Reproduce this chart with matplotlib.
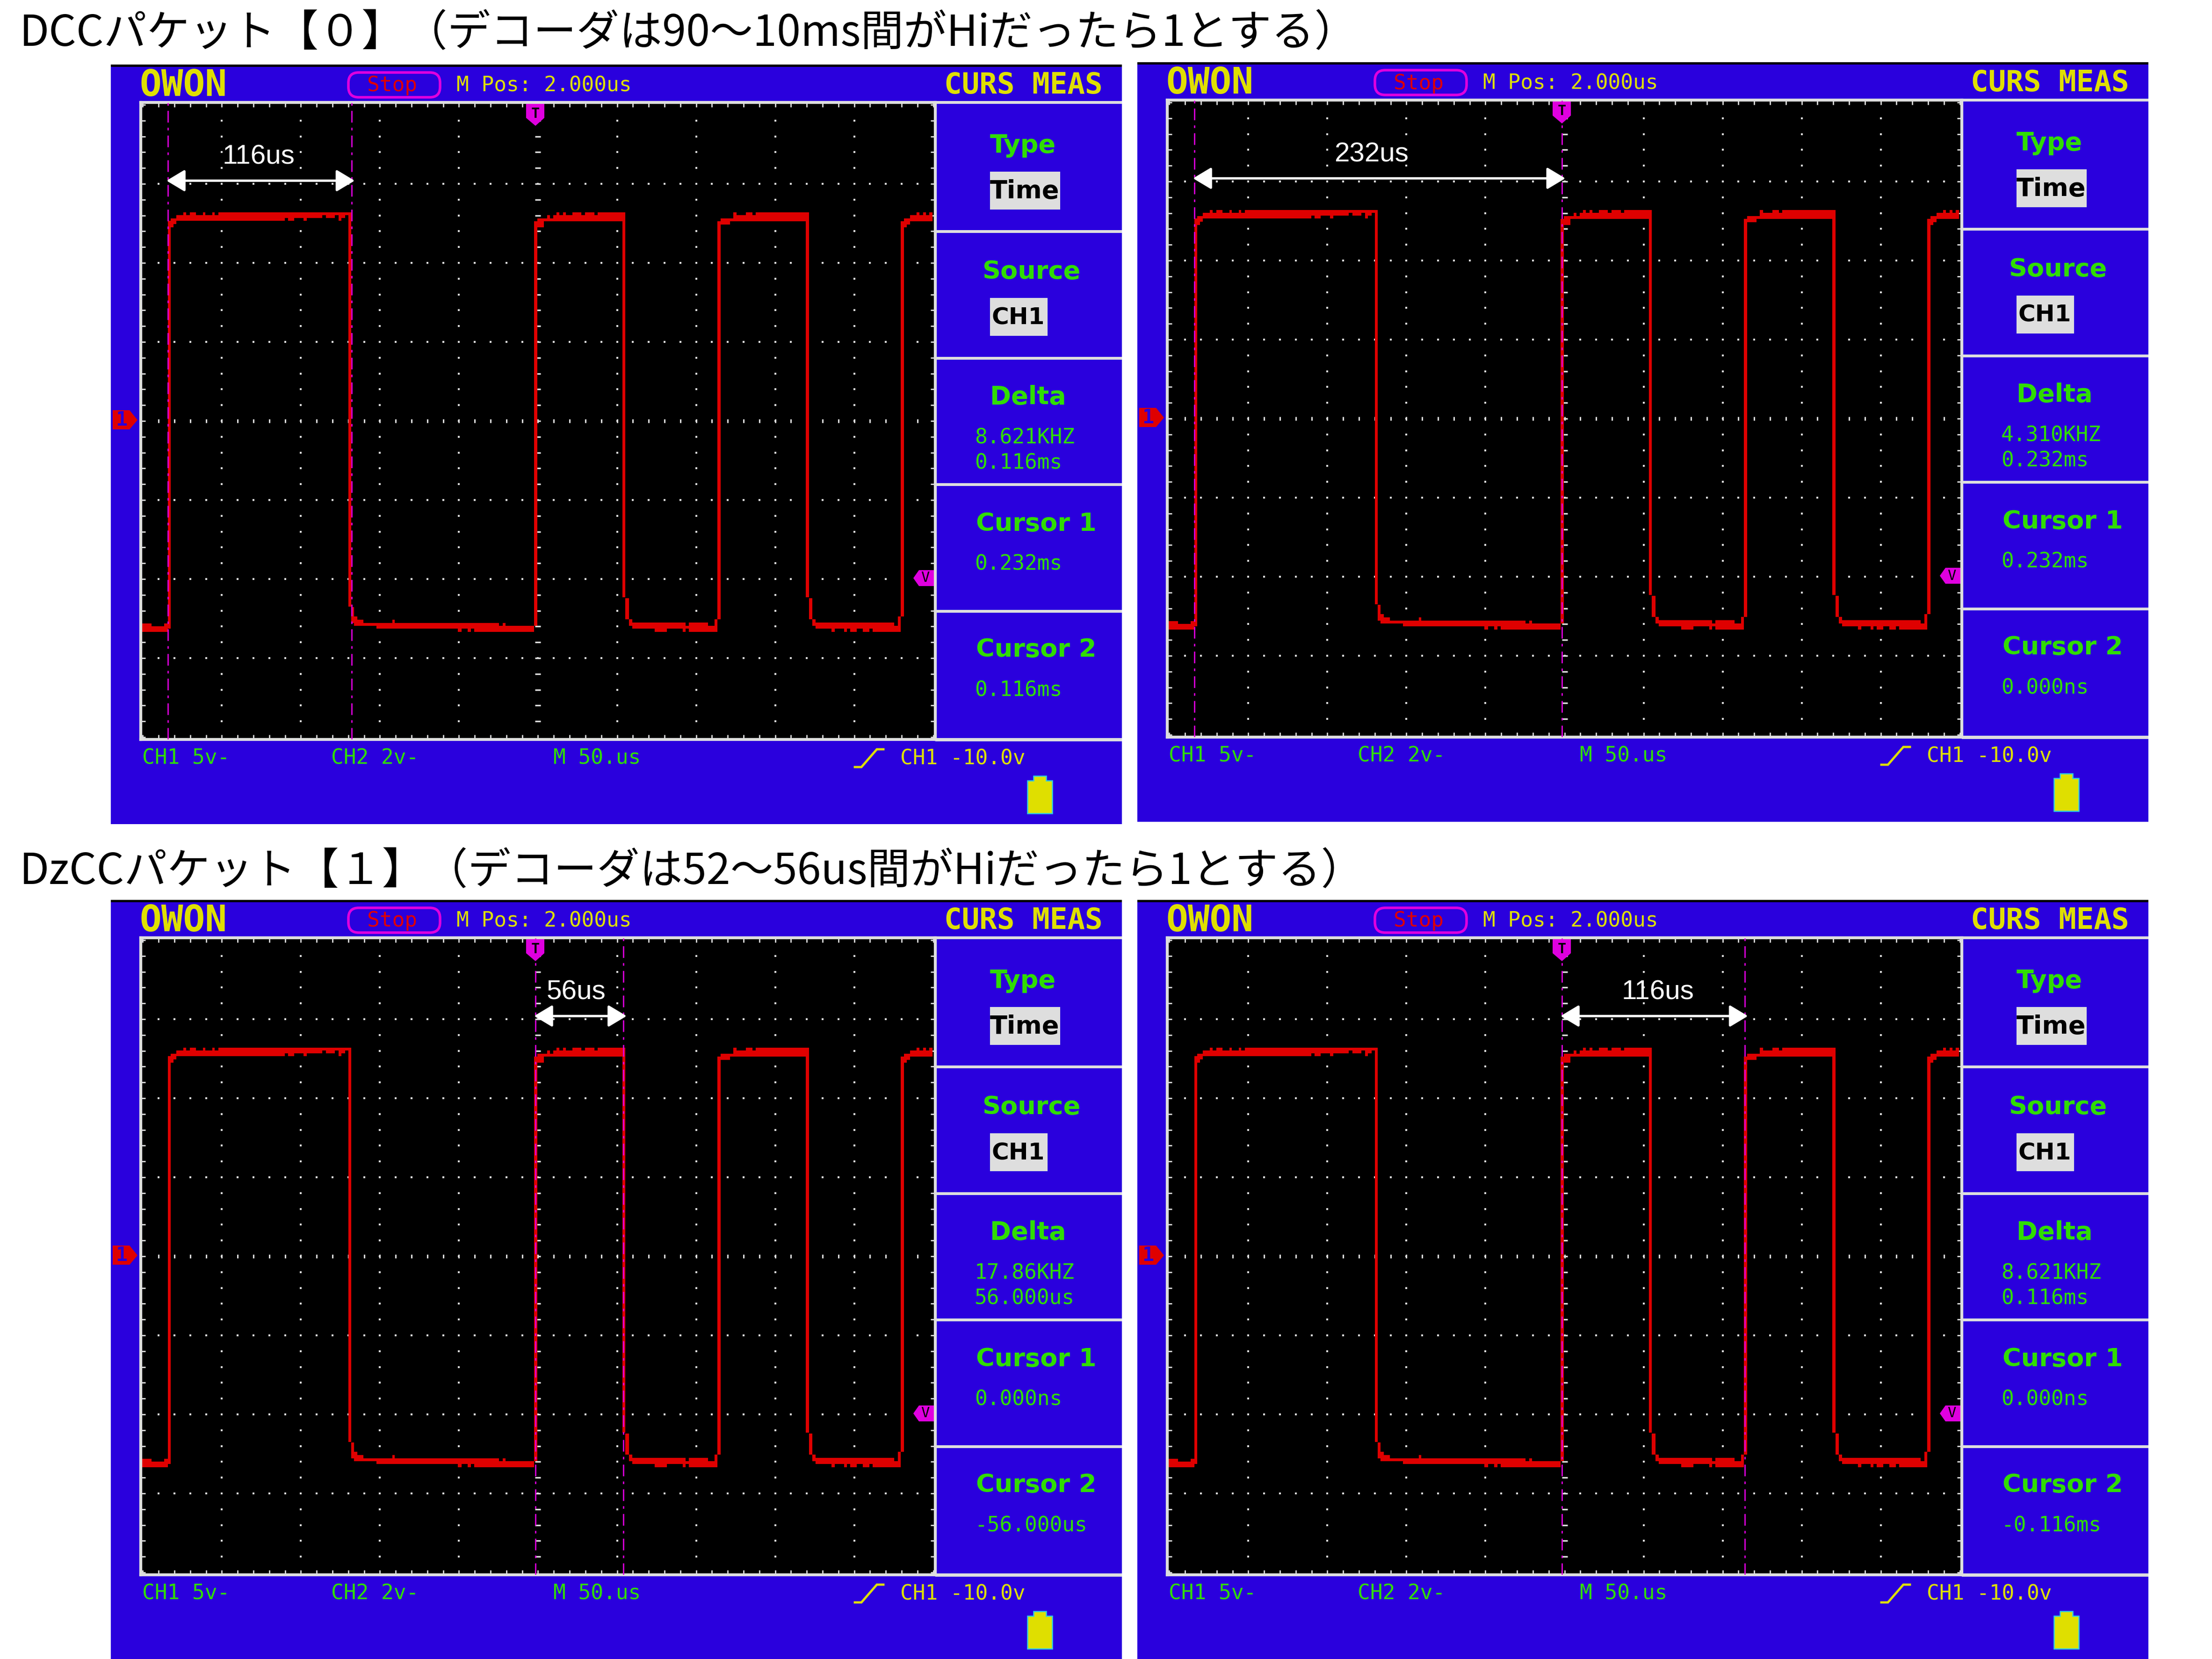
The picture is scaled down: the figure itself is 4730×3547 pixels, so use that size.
import matplotlib
matplotlib.use("Agg")
import matplotlib.pyplot as plt
from matplotlib.patches import Rectangle, Polygon, FancyBboxPatch

W, H = 4730, 3547
BLUE = "#2A00DD"
RED = "#DF0000"
YEL = "#DFDF00"
GRN = "#30DD00"
MAG = "#DF00DF"
GRY = "#DEDEDE"

titles = ["DCCパケット【０】（デコーダは90〜10ms間がHiだったら1とする）",
          "DzCCパケット【１】（デコーダは52〜56us間がHiだったら1とする）"]
title_y = [72, 1864]

# trace: step start (us), top and bottom of the red band (V)
trace_t = [-250.5, -244.6, -236.6, -234.2, -232.3, -230.5, -228.7, -224.3, -222.7, -220.3, -216.4, -212.1, -210.4,
           -206.1, -204.5, -202.3, -160.2, -158.2, -154.4, -148.4, -146.3, -136.5, -134.3, -128.4, -126.3, -124.3,
           -122.0, -120.0, -118.2, -116.3, -114.4, -110.5, -102.3, -92.2, -90.7, -50.8, -48.4, -44.6, -42.5, -40.4,
           -24.7, -22.4, -20.6, -2.5, -0.5, 3.6, 5.7, 7.5, 9.6, 11.7, 13.6, 15.7, 17.6, 21.6, 27.5, 29.6, 35.5, 37.7,
           53.5, 55.2, 57.5, 59.6, 73.8, 81.4, 91.5, 93.3, 95.4, 107.4, 111.7, 113.4, 115.5, 121.3, 123.5, 125.6,
           131.5, 135.7, 137.6, 169.5, 171.4, 173.5, 175.5, 185.5, 187.6, 193.5, 195.5, 197.5, 201.5, 205.4, 209.5,
           211.7, 225.4, 227.7, 229.4, 231.4, 233.4, 235.3, 239.5, 241.3, 243.6, 245.4, 247.5, 249.4]
trace_top = [-12.8, -13.0, -12.8, 12.65, 12.82, 12.82, 13.02, 13.2, 13.02, 13.2, 13.02, 13.2, 13.02,
             13.2, 13.02, 13.2, 13.2, 13.2, 13.2, 13.2, 13.2, 13.2, 13.2, 13.2, 13.2, 13.2,
             13.2, 13.2, -11.77, -12.37, -12.57, -12.77, -12.77, -12.57, -12.77, -12.77, -12.77, -12.77, -12.77, -12.77,
             -12.96, -12.77, -12.96, 12.63, 12.82, 12.82, 13.02, 12.82, 13.02, 13.2, 13.02, 13.2, 13.02, 13.2, 13.02, 13.2, 13.02, 13.2,
             13.2, -11.2, -12.55, -12.76, -12.76, -12.76, -12.76, -12.95, -12.76, -12.95, -12.55, 12.63, 12.82, 12.82, 13.2, 13.02,
             13.2, 13.02, 13.2, 13.2, -11.2, -12.55, -12.76, -12.76, -12.76, -12.76, -12.76, -12.76, -12.76, -12.76, -12.76,
             -12.76, -12.95, -12.36, 12.63, 12.82, 12.82, 13.02, 13.2, 13.02, 13.2, 13.02, 13.2, 13.2]
trace_bot = [-13.35, -13.35, -13.35, -13.15, 12.25, 12.45, 12.65, 12.65, 12.65, 12.65, 12.65, 12.65, 12.65,
             12.65, 12.65, 12.65, 12.85, 12.65, 12.85, 12.65, 12.85, 13.02, 12.85, 13.02, 12.65, 12.85,
             13.02, -11.75, -12.77, -12.96, -12.96, -12.96, -13.15, -13.15, -13.15, -13.35, -13.15, -13.35, -13.15, -13.35,
             -13.35, -13.35, -13.35, -12.96, 12.25, 12.63, 12.63, 12.63, 12.63, 12.63, 12.63, 12.63, 12.63, 12.63, 12.63, 12.63, 12.63, 12.63,
             -11.15, -12.55, -12.95, -13.15, -13.35, -13.15, -13.35, -13.15, -13.35, -13.35, -13.35, -12.55, 12.43, 12.63, 12.63, 12.63,
             12.63, 12.63, 12.63, -11.15, -12.55, -12.95, -13.15, -13.35, -13.15, -13.35, -13.15, -13.35, -13.15, -13.35, -13.15,
             -13.35, -13.35, -13.35, -12.36, 12.25, 12.43, 12.63, 12.63, 12.63, 12.63, 12.63, 12.63, 12.63]

cursor_a = [-234.0, -234.0, -1.5, -1.5]
cursor_b = [-118.0, -1.5, 54.0, 114.0]
span_labels = ["116us", "232us", "56us", "116us"]
span_label_t = [-176.8, -122.3, 24.0, 59.0]
delta_freq = ["8.621KHZ", "4.310KHZ", "17.86KHZ", "8.621KHZ"]
delta_time = ["0.116ms", "0.232ms", "56.000us", "0.116ms"]
cursor1_val = ["0.232ms", "0.232ms", "0.000ns", "0.000ns"]
cursor2_val = ["0.116ms", "0.000ns", "-56.000us", "-0.116ms"]

# where each scope picture sits, offset from the first one
panel_dx = [0, 2195, 0, 2195]
panel_dy = [0, -5, 1786, 1786]

plt.rcParams["font.family"] = ["DejaVu Sans"]
fig = plt.figure(figsize=(W / 100, H / 100), dpi=100, facecolor="white")


def pixel_axes(z):
    a = fig.add_axes([0, 0, 1, 1], zorder=z)
    a.set_xlim(0, W)
    a.set_ylim(H, 0)
    a.axis("off")
    return a


# blue chrome goes under the screens, markers over them
base = pixel_axes(0)
over = pixel_axes(3)

for s, y in zip(titles, title_y):
    base.text(42, y, s, fontsize=66.2, va="center", ha="left", color="black",
              family=["Noto Sans CJK JP", "DejaVu Sans"])


def mono(x, y, s, color=GRN, size=32, weight="normal"):
    base.text(x, y + 4, s, fontsize=size, color=color, family="DejaVu Sans Mono",
              weight=weight, va="center", ha="left", zorder=5)


def label(x, y, s, color=GRN, size=39):
    base.text(x, y + 2, s, fontsize=size, color=color, family="DejaVu Sans",
              weight="bold", va="center", ha="left", zorder=5)


def draw_panel(i):
    dx, dy = panel_dx[i], panel_dy[i]

    # chrome
    base.add_patch(Rectangle((237 + dx, 141 + dy), 2162, 1621, fc=BLUE, ec="none", zorder=1))
    base.add_patch(Rectangle((237 + dx, 138 + dy), 2162, 5, fc="black", ec="none", zorder=2))
    base.add_patch(Rectangle((2000 + dx, 216 + dy), 399, 6, fc=GRY, ec="none", zorder=2))
    base.add_patch(Rectangle((2000 + dx, 1578 + dy), 399, 7, fc=GRY, ec="none", zorder=2))
    for sy in [495, 766, 1036, 1307]:
        base.add_patch(Rectangle((2000 + dx, sy - 3 + dy), 399, 6, fc=GRY, ec="none", zorder=2))

    mono(299 + dx, 179 + dy, "OWON", YEL, 56, "bold")
    base.add_patch(FancyBboxPatch((745 + dx, 155 + dy), 196, 53, boxstyle="round,pad=0,rounding_size=22",
                                  fc="none", ec=MAG, lw=4, zorder=3))
    mono(785 + dx, 179 + dy, "Stop", RED)
    mono(976 + dx, 179 + dy, "M Pos: 2.000us", YEL)
    mono(2019 + dx, 179 + dy, "CURS MEAS", YEL, 45, "bold")

    # menu
    label(2117 + dx, 309 + dy, "Type")
    base.add_patch(Rectangle((2117 + dx, 367 + dy), 150, 81, fc=GRY, ec="none", zorder=3))
    label(2117 + dx, 407 + dy, "Time", "black")
    label(2100 + dx, 579 + dy, "Source")
    base.add_patch(Rectangle((2117 + dx, 637 + dy), 123, 81, fc=GRY, ec="none", zorder=3))
    label(2121 + dx, 677 + dy, "CH1", "black", 36)
    label(2117 + dx, 847 + dy, "Delta")
    mono(2084 + dx, 932 + dy, delta_freq[i])
    mono(2084 + dx, 986 + dy, delta_time[i])
    label(2087 + dx, 1118 + dy, "Cursor 1")
    mono(2084 + dx, 1202 + dy, cursor1_val[i])
    label(2087 + dx, 1387 + dy, "Cursor 2")
    mono(2084 + dx, 1472 + dy, cursor2_val[i])

    # bottom row
    mono(304 + dx, 1617 + dy, "CH1 5v-")
    mono(708 + dx, 1617 + dy, "CH2 2v-")
    mono(1183 + dx, 1617 + dy, "M 50.us")
    mono(1925 + dx, 1618 + dy, "CH1 -10.0v", YEL)
    base.plot([1828 + dx, 1842 + dx, 1875 + dx, 1889 + dx], [1640 + dy, 1640 + dy, 1602 + dy, 1602 + dy],
              color=YEL, lw=3.5, zorder=3, solid_joinstyle="miter")
    base.add_patch(Polygon([(2197 + dx, 1739 + dy), (2197 + dx, 1669 + dy), (2210 + dx, 1669 + dy),
                            (2210 + dx, 1659 + dy), (2237 + dx, 1659 + dy), (2237 + dx, 1669 + dy),
                            (2250 + dx, 1669 + dy), (2250 + dx, 1739 + dy)], fc=YEL, ec="#30D0E0", lw=1.8, zorder=3))

    # channel 1 ground marker
    base.add_patch(Polygon([(241 + dx, 877 + dy), (277 + dx, 877 + dy), (294 + dx, 898 + dy),
                            (277 + dx, 918 + dy), (241 + dx, 918 + dy)], fc=RED, ec="none", zorder=3))
    mono(247 + dx, 894 + dy, "1", BLUE, 30, "bold")

    # screen
    ax = fig.add_axes([(301 + dx) / W, 1 - (1581 + dy) / H, 1699 / W, 1362 / H], facecolor="black", zorder=1)
    ax.set_xlim(-251.3, 251.3)
    ax.set_ylim(-20.15, 20.15)
    ax.set_xticks(range(-250, 251, 10))
    ax.set_yticks(range(-20, 21, 1))
    ax.tick_params(which="both", direction="in", length=7.5, width=2, color=GRY,
                   top=True, right=True, labelbottom=False, labelleft=False)
    for sp in ax.spines.values():
        sp.set_color(GRY)
        sp.set_linewidth(4.5)

    # graticule dots
    for x in range(-200, 201, 50):
        ys = list(range(-19, 20))
        mk = "_" if x == 0 else "s"
        ax.plot([x] * len(ys), ys, ls="none", marker=mk, ms=8 if x == 0 else 2.2, mew=2.4 if x == 0 else 0,
                color=GRY, zorder=1)
    for y in range(-15, 16, 5):
        xs = list(range(-240, 241, 10))
        mk = "|" if y == 0 else "s"
        ax.plot(xs, [y] * len(xs), ls="none", marker=mk, ms=6 if y == 0 else 2.2, mew=2.2 if y == 0 else 0,
                color=GRY, zorder=1)

    ax.fill_between(trace_t, trace_bot, trace_top, step="post", color=RED, lw=0, zorder=2)

    for c in [cursor_a[i], cursor_b[i]]:
        ax.plot([c, c], [-20.15, 20.15], color=MAG, lw=2, ls=(0, (9, 4, 2, 4)), zorder=3)

    # trigger markers
    over.add_patch(Polygon([(1125 + dx, 222 + dy), (1164 + dx, 222 + dy), (1164 + dx, 252 + dy),
                            (1145 + dx, 269 + dy), (1125 + dx, 252 + dy)], fc=MAG, ec="none", zorder=6))
    over.text(1145 + dx, 243 + dy, "T", fontsize=22, color="black", family="DejaVu Sans Mono", weight="bold",
              ha="center", va="center", zorder=7)
    over.add_patch(Polygon([(1953 + dx, 1236 + dy), (1965 + dx, 1219 + dy), (1997 + dx, 1219 + dy),
                            (1997 + dx, 1253 + dy), (1965 + dx, 1253 + dy)], fc=MAG, ec="none", zorder=6))
    over.text(1978 + dx, 1236 + dy, "V", fontsize=22, color="black", family="DejaVu Sans Mono",
              ha="center", va="center", zorder=7)

    # measurement arrow drawn on the screenshot
    ax.annotate("", xy=(cursor_a[i] - 1.0, 15.2), xytext=(cursor_b[i] + 2.0, 15.2),
                arrowprops=dict(arrowstyle="<|-|>,head_length=2.4,head_width=1.44", mutation_scale=10,
                                color="white", lw=3.6, shrinkA=0, shrinkB=0), zorder=8)
    ax.text(span_label_t[i], 16.7, span_labels[i], color="white", fontsize=42,
            family="Liberation Sans", ha="center", va="center", zorder=8)


for i in range(4):
    draw_panel(i)

fig.savefig("out.png", dpi=100)
